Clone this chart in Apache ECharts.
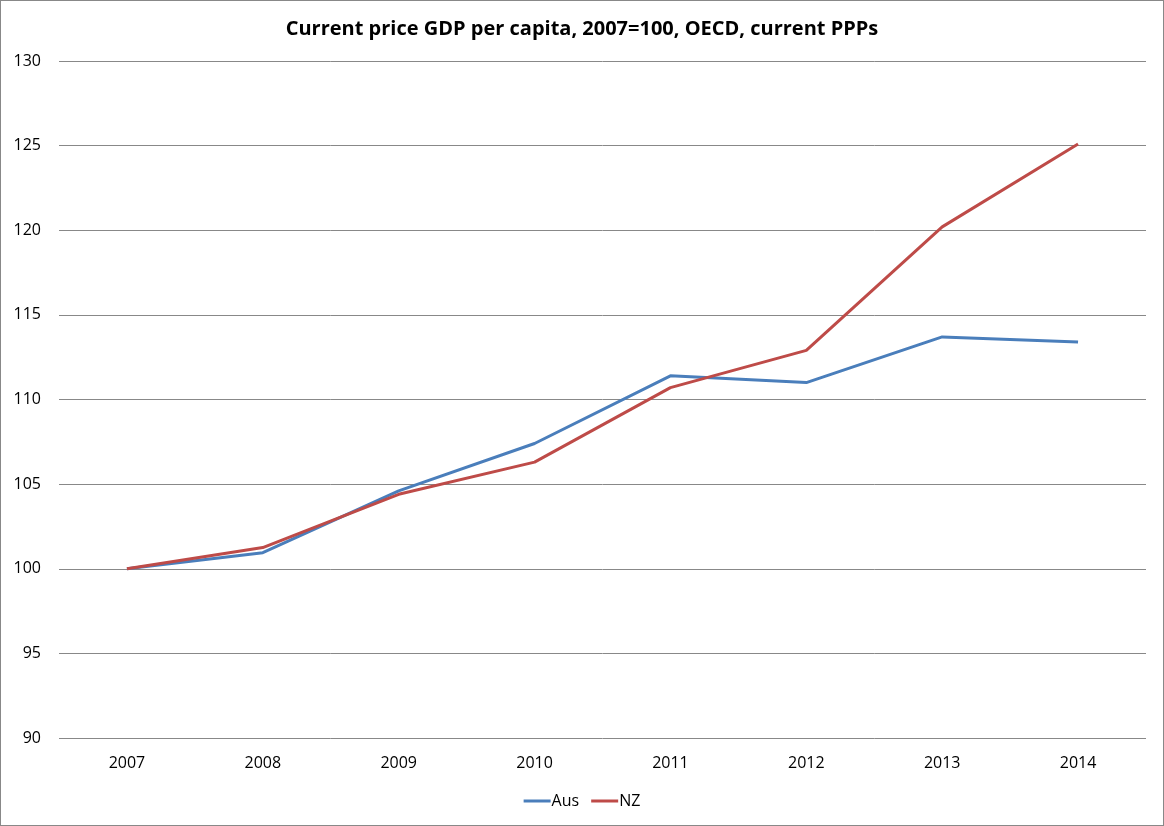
<!DOCTYPE html>
<html>
<head>
<meta charset="utf-8">
<script src="https://cdn.jsdelivr.net/npm/echarts@6/dist/echarts.min.js"></script>
<style>
html,body{margin:0;padding:0;background:#fff;}
#c{width:1164px;height:826px;box-sizing:border-box;border:1px solid #888;}
</style>
</head>
<body>
<div id="c"></div>
<script>
const categories = ['2007','2008','2009','2010','2011','2012','2013','2014'];
const aus = [100, 100.95, 104.6, 107.4, 111.4, 111.0, 113.7, 113.4];
const nz = [100, 101.25, 104.4, 106.3, 110.7, 112.9, 120.2, 125.1];
const titleText = 'Current price GDP per capita, 2007=100, OECD, current PPPs';

const chart = echarts.init(document.getElementById('c'));
const font = 'Open Sans, Noto Sans, sans-serif';
chart.setOption({
  animation: false,
  title: {
    text: titleText, left: 'center', top: 13,
    textStyle: {fontFamily: font, fontSize: 20, fontWeight: 'bold', color: '#000'}
  },
  legend: {
    bottom: 11, left: 'center', itemWidth: 27, itemHeight: 3, itemGap: 12,
    icon: 'rect',
    textStyle: {fontFamily: font, fontSize: 16, color: '#000', padding: [0,0,0,-4]},
    data: ['Aus','NZ']
  },
  grid: {left: 58, right: 17, top: 60, bottom: 87},
  xAxis: {
    type: 'category', data: categories, boundaryGap: true,
    axisLine: {show: false}, axisTick: {show: false},
    axisLabel: {fontFamily: font, fontSize: 16, color: '#000', margin: 17}
  },
  yAxis: {
    type: 'value', min: 90, max: 130, interval: 5,
    axisLine: {show: false}, axisTick: {show: false},
    splitLine: {lineStyle: {color: '#888', width: 1}},
    axisLabel: {fontFamily: font, fontSize: 16, color: '#000', margin: 18}
  },
  series: [
    {name: 'Aus', type: 'line', data: aus, symbol: 'none', color: '#4A7EBB',
     lineStyle: {width: 3, color: '#4A7EBB'}},
    {name: 'NZ', type: 'line', data: nz, symbol: 'none', color: '#BE4B48',
     lineStyle: {width: 3, color: '#BE4B48'}}
  ]
});
</script>
</body>
</html>
